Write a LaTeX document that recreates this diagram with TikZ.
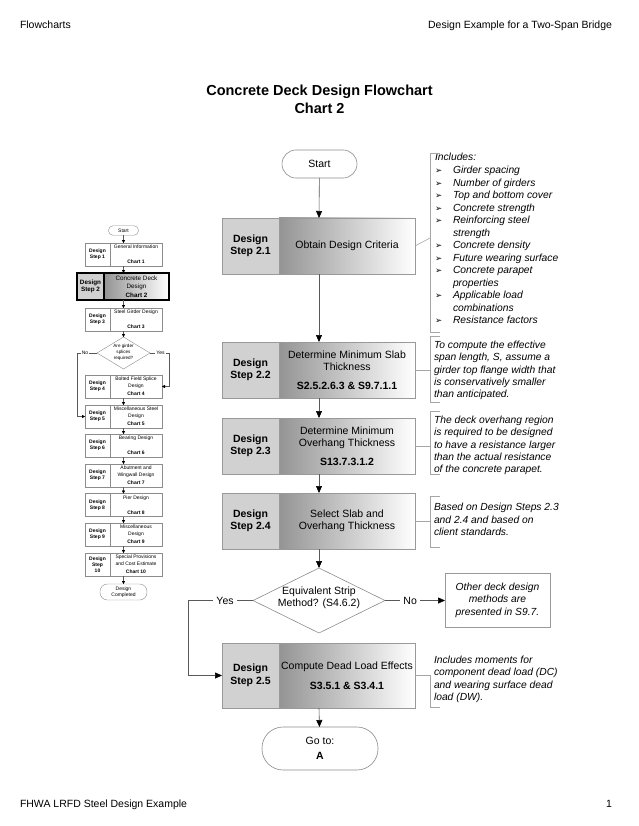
\documentclass[tikz,border=0pt]{standalone}
\usepackage{fontspec}
\setmainfont{Liberation Sans}
\newfontfamily\dvs{DejaVu Sans}
\usetikzlibrary{arrows.meta,shapes.geometric}
\newcommand\myfs[2]{\fontsize{#1}{#2}\selectfont}
\newcommand\bul{\makebox[18pt][l]{\dvs\bfseries\upshape\fontsize{8.5}{8}\selectfont ➢}}
\newcommand\bIndent{\hspace*{18pt}}
\newcommand\sstep[5]{%
  \node[slbox, anchor=north west] (#1l) at (85,#2) {#3};
  \node[srbox, anchor=north west] (#1r) at (110,#2) {};
  \node[stt, anchor=north] (#1t) at ([yshift=-2pt]#1r.north) {#4};
  \node[sct, anchor=south] (#1c) at ([yshift=2pt]#1r.south) {#5};
}
\begin{document}
\begin{tikzpicture}[x=1pt,y=-1pt,
  every node/.style={inner sep=0pt, outer sep=0pt},
  ln/.style={draw=black!65, line width=0.6pt},
  arr/.style={ln, -{Triangle[length=7pt,width=6pt,color=black]}},
  sarr/.style={draw=black!65, line width=0.4pt, -{Triangle[length=3pt,width=3pt,color=black]}},
  brk/.style={draw=black!35, line width=0.6pt},
  lbox/.style={draw=black!40, line width=0.6pt, fill=black!18, minimum width=57pt, minimum height=56pt, font=\myfs{10.5}{12.5}\bfseries, align=center},
  rbox/.style={draw=black!40, line width=0.6pt, left color=black!42, right color=white, minimum width=136pt, minimum height=56pt, font=\myfs{10.5}{12.3}, align=center},
  term/.style={draw=black!45, line width=0.6pt, fill=white, font=\myfs{10.5}{14.5}, align=center},
  note/.style={font=\myfs{10.3}{12.3}\itshape, align=left},
  slbox/.style={draw=black!45, line width=0.4pt, fill=white, minimum width=25pt, minimum height=23pt, font=\myfs{5}{6}\bfseries, align=center},
  srbox/.style={draw=black!45, line width=0.4pt, fill=white, minimum width=52pt, minimum height=23pt},
  stt/.style={font=\myfs{5}{6.5}, align=center},
  sct/.style={font=\myfs{5}{6}\bfseries},
  lab/.style={font=\myfs{10.5}{12.5}, fill=white, inner xsep=3pt, inner ysep=1pt},
  slab/.style={font=\myfs{5}{6}, fill=white, inner xsep=1pt, inner ysep=0.5pt}
]
\fill[white] (0,0) rectangle (638,826);
\useasboundingbox (0,0) rectangle (638,826);

% header / footer
\node[anchor=base west, font=\myfs{10.5}{12}] (hl) at (20,29) {Flowcharts};
\node[anchor=base east, font=\myfs{10.5}{12}] (hr) at (612,29) {Design Example for a Two-Span Bridge};
\node[anchor=base west, font=\myfs{10.5}{12}] (fl) at (20,807) {FHWA LRFD Steel Design Example};
\node[anchor=base east, font=\myfs{10.5}{12}] (fr) at (612,807) {1};

% title
\node[font=\myfs{14.5}{18}\bfseries, align=center] (title) at (319.5,99) {Concrete Deck Design Flowchart\\Chart 2};

% ---------- main chart ----------
\coordinate (mc) at (319,0);
\node[term, minimum width=75pt, minimum height=28pt, rounded corners=14pt] (start) at (319.5,164) {Start};

\node[lbox, anchor=north west] (b21l) at (222,218) {Design\\Step 2.1};
\node[rbox, anchor=north west] (b21r) at (279,218) {Obtain Design Criteria};

\node[lbox, anchor=north west] (b22l) at (222,342) {Design\\Step 2.2};
\node[rbox, anchor=north west] (b22r) at (279,342) {Determine Minimum Slab\\Thickness\\[6pt]\textbf{S2.5.2.6.3 \& S9.7.1.1}};

\node[lbox, anchor=north west] (b23l) at (222,418) {Design\\Step 2.3};
\node[rbox, anchor=north west] (b23r) at (279,418) {Determine Minimum\\Overhang Thickness\\[6pt]\textbf{S13.7.3.1.2}};

\node[lbox, anchor=north west] (b24l) at (222,493) {Design\\Step 2.4};
\node[rbox, anchor=north west] (b24r) at (279,493) {Select Slab and\\Overhang Thickness};

\node[diamond, draw=black!45, line width=0.6pt, fill=white, minimum width=132pt, minimum height=65pt, shape aspect=2] (dia) at (319,600.5) {};
\node[font=\myfs{10.5}{12.5}, align=center] (diat) at (319,598) {Equivalent Strip\\Method? (S4.6.2)};

\node[draw=black!40, line width=0.6pt, minimum width=105pt, minimum height=54pt, font=\myfs{10.3}{12.5}\itshape, align=center] (other) at (497.5,600) {Other deck design\\methods are\\presented in S9.7.};

\node[lbox, anchor=north west, minimum height=65pt] (b25l) at (222,643) {Design\\Step 2.5};
\node[rbox, anchor=north west, minimum height=65pt] (b25r) at (279,643) {Compute Dead Load Effects\\[8pt]\textbf{S3.5.1 \& S3.4.1}};

\node[term, minimum width=116pt, minimum height=43pt, rounded corners=21pt] (goto) at (320,748.5) {Go to:\\\textbf{A}};

\draw[arr] (start) -- (mc |- b21r.north);
\draw[arr] (mc |- b21r.south) -- (mc |- b22r.north);
\draw[arr] (mc |- b22r.south) -- (mc |- b23r.north);
\draw[arr] (mc |- b23r.south) -- (mc |- b24r.north);
\draw[arr] (mc |- b24r.south) -- (dia.north);
\coordinate (yc) at (188,600.5);
\draw[arr] (dia.west) -- node[lab, pos=0.43] (yes) {Yes} (yc) |- (b25l.west);
\draw[arr] (dia.east) -- node[lab, pos=0.42] (no) {No} (dia.east -| other.west);
\draw[arr] (mc |- b25r.south) -- (goto);

% notes
\node[note, anchor=north west, font=\myfs{10.3}{12.54}\itshape] (n1) at (435,153.5) {Includes:\\
\bul Girder spacing\\
\bul Number of girders\\
\bul Top and bottom cover\\
\bul Concrete strength\\
\bul Reinforcing steel\\
\bIndent strength\\
\bul Concrete density\\
\bul Future wearing surface\\
\bul Concrete parapet\\
\bIndent properties\\
\bul Applicable load\\
\bIndent combinations\\
\bul Resistance factors};
\draw[brk] (440,153) -- (430,153) -- (430,332) -- (440,332);
\coordinate (n1c) at (430,238);
\draw[brk] (b21r.east) -- (n1c);

\node[note, anchor=north west] (n2) at (434,341) {To compute the effective\\span length, S, assume a\\girder top flange width that\\is conservatively smaller\\than anticipated.};
\draw[brk] (440,336) -- (430,336) -- (430,402) -- (440,402);
\coordinate (n2c) at (430,370);
\draw[brk] (b22r.east) -- (n2c);

\node[note, anchor=north west] (n3) at (434,416) {The deck overhang region\\is required to be designed\\to have a resistance larger\\than the actual resistance\\of the concrete parapet.};
\draw[brk] (440,411) -- (430,411) -- (430,474) -- (440,474);
\coordinate (n3c) at (430,446);
\draw[brk] (b23r.east) -- (n3c);

\node[note, anchor=north west] (n4) at (434,503.5) {Based on Design Steps 2.3\\and 2.4 and based on\\client standards.};
\draw[brk] (440,496) -- (430,496) -- (430,547) -- (440,547);
\coordinate (n4c) at (430,521);
\draw[brk] (b24r.east) -- (n4c);

\node[note, anchor=north west] (n5) at (434,656) {Includes moments for\\component dead load (DC)\\and wearing surface dead\\load (DW).};
\coordinate (n5c) at (430,675.5);
\draw[brk] (b25r.east) -- (n5c) -- (430,707) -- (440,707);

% ---------- small overview chart ----------
\coordinate (scol) at (123.5,0);
\node[draw=black!45, line width=0.4pt, fill=white, rounded corners=4.5pt, minimum width=30pt, minimum height=9.5pt, font=\myfs{5}{6}] (sst) at (123.5,230.5) {Start};

\sstep{s1}{243}{Design\\Step 1}{General Information}{Chart 1}

\node[draw=black, line width=1.3pt, fill=black!18, minimum width=27pt, minimum height=27pt, anchor=north west, font=\myfs{6.3}{7.5}\bfseries, align=center] (s2l) at (77,273) {Design\\Step 2};
\node[draw=black, line width=1.3pt, left color=black!42, right color=white, minimum width=65pt, minimum height=27pt, anchor=north west, font=\myfs{6.3}{8.3}, align=center] (s2r) at (104,273) {Concrete Deck\\Design\\\textbf{Chart 2}};

\sstep{s3}{308}{Design\\Step 3}{Steel Girder Design}{Chart 3}

\node[diamond, draw=black!45, line width=0.4pt, fill=white, minimum width=53pt, minimum height=32pt] (sdia) at (123.5,353) {};
\node[font=\myfs{4.6}{6}, align=center] (sdiat) at (123.5,352) {Are girder\\splices\\required?};

\sstep{s4}{375}{Design\\Step 4}{Bolted Field Splice\\Design}{Chart 4}
\sstep{s5}{405}{Design\\Step 5}{Miscellaneous Steel\\Design}{Chart 5}
\sstep{s6}{434}{Design\\Step 6}{Bearing Design}{Chart 6}
\sstep{s7}{464}{Design\\Step 7}{Abutment and\\Wingwall Design}{Chart 7}
\sstep{s8}{493.5}{Design\\Step 8}{Pier Design}{Chart 8}
\sstep{s9}{523}{Design\\Step 9}{Miscellaneous\\Design}{Chart 9}
\sstep{s10}{553}{Design\\Step\\10}{Special Provisions\\and Cost Estimate}{Chart 10}

\node[draw=black!45, line width=0.4pt, fill=white, rounded corners=7.5pt, minimum width=47pt, minimum height=16pt, font=\myfs{5}{6.5}, align=center] (sdone) at (123.5,592) {Design\\Completed};

\draw[sarr] (sst) -- (scol |- s1r.north);
\draw[sarr] (scol |- s1r.south) -- (scol |- s2r.north);
\draw[sarr] (scol |- s2r.south) -- (scol |- s3r.north);
\draw[sarr] (scol |- s3r.south) -- (sdia.north);
\draw[sarr] (scol |- s4r.south) -- (scol |- s5r.north);
\draw[sarr] (scol |- s5r.south) -- (scol |- s6r.north);
\draw[sarr] (scol |- s6r.south) -- (scol |- s7r.north);
\draw[sarr] (scol |- s7r.south) -- (scol |- s8r.north);
\draw[sarr] (scol |- s8r.south) -- (scol |- s9r.north);
\draw[sarr] (scol |- s9r.south) -- (scol |- s10r.north);
\draw[sarr] (scol |- s10r.south) -- (sdone);
\coordinate (snc) at (77,353);
\coordinate (syc) at (169,353);
\draw[sarr] (sdia.west) -- node[slab, pos=0.6] (sno) {No} (snc) |- (s5l.west);
\draw[sarr] (sdia.east) -- node[slab, pos=0.55] (syes) {Yes} (syc) |- (s4r.east);
\end{tikzpicture}
\end{document}
